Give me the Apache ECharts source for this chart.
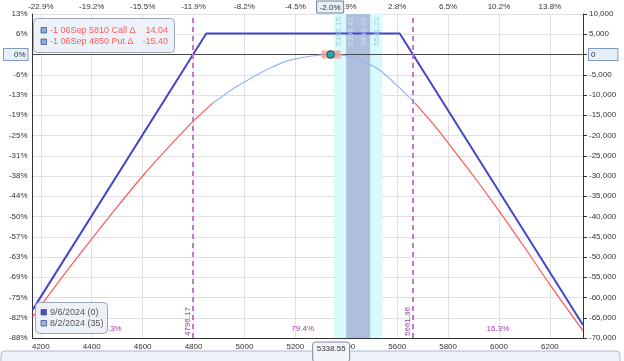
<!DOCTYPE html>
<html><head><meta charset="utf-8">
<script src="https://cdn.jsdelivr.net/npm/echarts@6/dist/echarts.min.js"></script>
<style>html,body{margin:0;padding:0;background:#fff}#c{width:624px;height:361px}</style>
</head><body><div id="c"></div>
<script>
// ---------- data ----------
const xMin = 4167.5, xMax = 6330;
const xTicks = [4200, 4400, 4600, 4800, 5000, 5200, 5400, 5600, 5800, 6000, 6200];
const topLabels = ['-22.9%', '-19.2%', '-15.5%', '-11.9%', '-8.2%', '-4.5%', '-0.9%', '2.8%', '6.5%', '10.2%', '13.8%'];
const yMin = -70000, yMax = 10000, yStep = 5000;
const leftLabels = ['13%', '6%', '0%', '-6%', '-13%', '-19%', '-25%', '-31%', '-38%', '-44%', '-50%', '-57%', '-63%', '-69%', '-75%', '-82%', '-88%'];

// expiration (9/6/2024)
const expPrices = [4167.5, 4850, 5610, 6330];
const expPnl = [-63050, 5200, 5200, -66800];

// T+0 (8/2/2024, 35 days)
const t0Prices = [4167.5, 4300, 4400, 4500, 4600, 4700, 4800, 4876, 4950, 5000, 5050, 5100, 5150, 5200, 5250, 5300, 5340, 5400, 5450, 5500, 5535, 5600, 5670, 5750, 5800, 5900, 6000, 6100, 6200, 6330];
const t0Pnl = [-64800, -53600, -45500, -37600, -30000, -23000, -16400, -12000, -8700, -6800, -5000, -3400, -2000, -1100, -500, -120, 0, -300, -1200, -2700, -4000, -7700, -12000, -17800, -21800, -30000, -38600, -47600, -56800, -68200];
const t0Threshold = -12000;

const spot = 5338.55;
const spotTopLabel = '-2.0%';
const outerBand = [5352.15, 5541.21];
const innerBand = [5399.41, 5493.95];
const breakevens = [4796.17, 5661.36];
const probs = ['4.3%', '79.4%', '16.3%'];

const legendTop = [
  { name: '-1 06Sep 5810 Call Δ', delta: '14.04' },
  { name: '-1 06Sep 4850 Put Δ', delta: '-15.40' }
];
const legendBottom = ['9/6/2024 (0)', '8/2/2024 (35)'];

// ---------- helpers ----------
const FONT = 'Liberation Sans, Arial, sans-serif';
const zip = (a, b) => a.map((v, i) => [v, b[i]]);
// split T+0 curve into "below threshold" (red) and "above" (light blue) pieces
const n = t0Prices.length;
const segLow = i => t0Pnl[i] <= t0Threshold && t0Pnl[i + 1] <= t0Threshold;
const lowData = [], highData = [];
for (let i = 0; i < n; i++) {
  const inLow = (i > 0 && segLow(i - 1)) || (i < n - 1 && segLow(i));
  const inHigh = (i > 0 && !segLow(i - 1)) || (i < n - 1 && !segLow(i));
  lowData.push([t0Prices[i], inLow ? t0Pnl[i] : '-']);
  highData.push([t0Prices[i], inHigh ? t0Pnl[i] : '-']);
}

const option = {
  animation: false,
  textStyle: { fontFamily: FONT },
  grid: { left: 31, right: 41, top: 14, bottom: 23 },
  xAxis: [
    {
      type: 'value', min: xMin, max: xMax, position: 'bottom',
      axisLine: { show: true, onZero: false, lineStyle: { color: '#333', width: 1 } },
      axisTick: { show: false, customValues: xTicks },
      axisLabel: { customValues: xTicks, fontSize: 8, color: '#333', margin: 5, fontFamily: FONT, formatter: v => String(v) },
      splitLine: { show: true, lineStyle: { color: '#e0e0e0', width: 1 } }
    },
    {
      type: 'value', min: xMin, max: xMax, position: 'top',
      axisLine: { show: false }, axisTick: { show: false, customValues: xTicks },
      axisLabel: { customValues: xTicks, fontSize: 8, color: '#333', margin: 3, fontFamily: FONT,
        formatter: v => topLabels[xTicks.indexOf(v)] || '' },
      splitLine: { show: false }
    }
  ],
  yAxis: [
    {
      type: 'value', min: yMin, max: yMax, interval: yStep, position: 'left',
      axisLine: { show: true, onZero: false, lineStyle: { color: '#333', width: 1 } },
      axisTick: { show: false },
      axisLabel: { fontSize: 8, color: '#333', margin: 5, fontFamily: FONT,
        formatter: v => { const s = leftLabels[Math.round((yMax - v) / yStep)]; return v === 0 ? '{hl|' + s + '}' : s; },
        rich: { hl: { backgroundColor: '#e6eef9', borderColor: '#7f9bbd', borderWidth: 1, padding: [2, 2, 1, 10], fontSize: 8, color: '#333' } } },
      splitLine: { show: true, lineStyle: { color: '#e0e0e0', width: 1 } }
    },
    {
      type: 'value', min: yMin, max: yMax, interval: yStep, position: 'right',
      axisLine: { show: true, onZero: false, lineStyle: { color: '#333', width: 1 } },
      axisTick: { show: true, length: 4, lineStyle: { color: '#333' } },
      axisLabel: { fontSize: 8, color: '#333', margin: 6, fontFamily: FONT,
        formatter: v => v === 0 ? '{hl|0}' : v.toLocaleString('en-US'),
        rich: { hl: { backgroundColor: '#e6eef9', borderColor: '#7f9bbd', borderWidth: 1, padding: [2, 22, 1, 2], fontSize: 8, color: '#333' } } },
      splitLine: { show: false }
    }
  ],
  series: [
    {
      type: 'line', data: [], z: 1, silent: true,
      markArea: {
        silent: true, z: 1,
        data: [
          [{ xAxis: outerBand[0], itemStyle: { color: '#d9fafc' } }, { xAxis: outerBand[1] }],
          [{ xAxis: innerBand[0], itemStyle: { color: '#aebfdd' } }, { xAxis: innerBand[1] }]
        ]
      }
    },
    {
      type: 'line', data: [], z: 2, silent: true,
      markLine: {
        silent: true, symbol: 'none', label: { show: false }, z: 2,
        lineStyle: { color: '#4a4a4a', width: 1, type: 'solid' },
        data: [{ yAxis: 0 }]
      }
    },
    {
      name: legendBottom[0], type: 'line', data: zip(expPrices, expPnl), showSymbol: false, z: 5,
      lineStyle: { color: '#4545cc', width: 2 }, itemStyle: { color: '#4545cc' }
    },
    {
      name: legendBottom[1], type: 'line', data: highData, showSymbol: false, smooth: 0.3, z: 4,
      lineStyle: { width: 1.2, color: '#93b6f2' }, itemStyle: { color: '#93b6f2' }
    },
    {
      type: 'line', data: lowData, showSymbol: false, smooth: 0.3, z: 4,
      lineStyle: { width: 1.2, color: '#ff5656' }, itemStyle: { color: '#ff5656' }
    },
    {
      type: 'line', data: [], z: 6, silent: true,
      markLine: {
        silent: true, symbol: 'none', label: { show: false }, z: 6,
        lineStyle: { color: '#c27ac8', width: 2, type: [5, 4] },
        data: breakevens.map(v => ({ xAxis: v }))
      }
    }
  ]
};

const chart = echarts.init(document.getElementById('c'));
chart.setOption(option);

const P = (x, y) => chart.convertToPixel({ xAxisIndex: 0, yAxisIndex: 0 }, [x, y]);
const topY = P(xMin, yMax)[1], botY = P(xMin, yMin)[1];
const g = [];

// band edge labels
const bandVals = [outerBand[0], innerBand[0], innerBand[1], outerBand[1]];
const bandOff = [5, 5, -6, -5];
const bandCol = ['#a9c9dc', '#d3dcee', '#d3dcee', '#a9c9dc'];
bandVals.forEach((v, i) => {
  const px = P(v, 0)[0];
  g.push({ type: 'text', x: px + bandOff[i], y: topY + 32, rotation: Math.PI / 2, z: 20,
    style: { text: v.toFixed(2), font: '8px ' + FONT, fill: bandCol[i], align: 'left', verticalAlign: 'middle' } });
});

// breakeven labels
breakevens.forEach(v => {
  const px = P(v, 0)[0];
  g.push({ type: 'text', x: px - 5, y: botY - 2, rotation: Math.PI / 2, z: 20,
    style: { text: v.toFixed(2), font: '8px ' + FONT, fill: '#a03aa8', align: 'left', verticalAlign: 'middle' } });
});

// probability labels
const edges = [xMin, breakevens[0], breakevens[1], xMax];
probs.forEach((p, i) => {
  const px = P((edges[i] + edges[i + 1]) / 2, 0)[0];
  g.push({ type: 'text', x: px, y: botY - 9, z: 20,
    style: { text: p, font: '8px ' + FONT, fill: '#a03aa8', align: 'center', verticalAlign: 'middle' } });
});

// current price marker
const sp = P(spot, 0);
g.push({ type: 'rect', shape: { x: sp[0] - 9, y: sp[1] - 4, width: 19, height: 8 }, z: 21,
  style: { fill: 'rgba(246,150,140,0.75)' } });
g.push({ type: 'circle', shape: { cx: sp[0], cy: sp[1], r: 3.8 }, z: 22,
  style: { fill: '#21a9ac', stroke: '#2b3f6a', lineWidth: 1 } });

// top highlighted % label
g.push({ type: 'rect', shape: { x: sp[0] - 14, y: 1, width: 27, height: 12 }, z: 23,
  style: { fill: '#e8eef7', stroke: '#6f7f95', lineWidth: 1 } });
g.push({ type: 'text', x: sp[0] - 0.5, y: 7.5, z: 24,
  style: { text: spotTopLabel, font: '8px ' + FONT, fill: '#333', align: 'center', verticalAlign: 'middle' } });

// bottom strip
g.push({ type: 'rect', shape: { x: 1, y: 351, width: 619, height: 20, r: 4 }, z: 18,
  style: { fill: '#edf2fa', stroke: '#aab8c9', lineWidth: 1 } });
// bottom spot label
g.push({ type: 'rect', shape: { x: sp[0] - 18, y: 342, width: 37, height: 20, r: 3 }, z: 23,
  style: { fill: '#f2f5fa', stroke: '#7d8a9c', lineWidth: 1 } });
g.push({ type: 'text', x: sp[0] + 0.5, y: 348.5, z: 24,
  style: { text: spot.toFixed(2), font: '8px ' + FONT, fill: '#333', align: 'center', verticalAlign: 'middle' } });

// top legend
g.push({ type: 'rect', shape: { x: 33.5, y: 18.5, width: 141, height: 34, r: 4 }, z: 25,
  style: { fill: 'rgba(236,241,248,0.92)', stroke: '#9aa6b6', lineWidth: 1 } });
legendTop.forEach((it, i) => {
  const y = 30.5 + i * 11.5;
  g.push({ type: 'rect', shape: { x: 41, y: y - 3, width: 5.5, height: 5.5 }, z: 26,
    style: { fill: '#8aa8e2', stroke: '#4a5a8a', lineWidth: 0.8 } });
  g.push({ type: 'text', x: 50, y: y, z: 26,
    style: { text: it.name, font: '9px ' + FONT, fill: '#ff5c5c', align: 'left', verticalAlign: 'middle' } });
  g.push({ type: 'text', x: 168, y: y, z: 26,
    style: { text: it.delta, font: '9px ' + FONT, fill: '#ff5c5c', align: 'right', verticalAlign: 'middle' } });
});

// bottom legend
g.push({ type: 'rect', shape: { x: 35.5, y: 302.5, width: 72, height: 31, r: 4 }, z: 25,
  style: { fill: 'rgba(236,241,248,0.95)', stroke: '#9aa6b6', lineWidth: 1 } });
const legCols = ['#4f4fb5', '#93b3ea'];
legendBottom.forEach((t, i) => {
  const y = 312.5 + i * 11;
  g.push({ type: 'rect', shape: { x: 41, y: y - 3, width: 5.5, height: 5.5 }, z: 26,
    style: { fill: legCols[i], stroke: '#4a5a8a', lineWidth: 0.8 } });
  g.push({ type: 'text', x: 50, y: y, z: 26,
    style: { text: t, font: '9px ' + FONT, fill: '#555', align: 'left', verticalAlign: 'middle' } });
});

chart.setOption({ graphic: { elements: g } });
</script>
</body></html>
